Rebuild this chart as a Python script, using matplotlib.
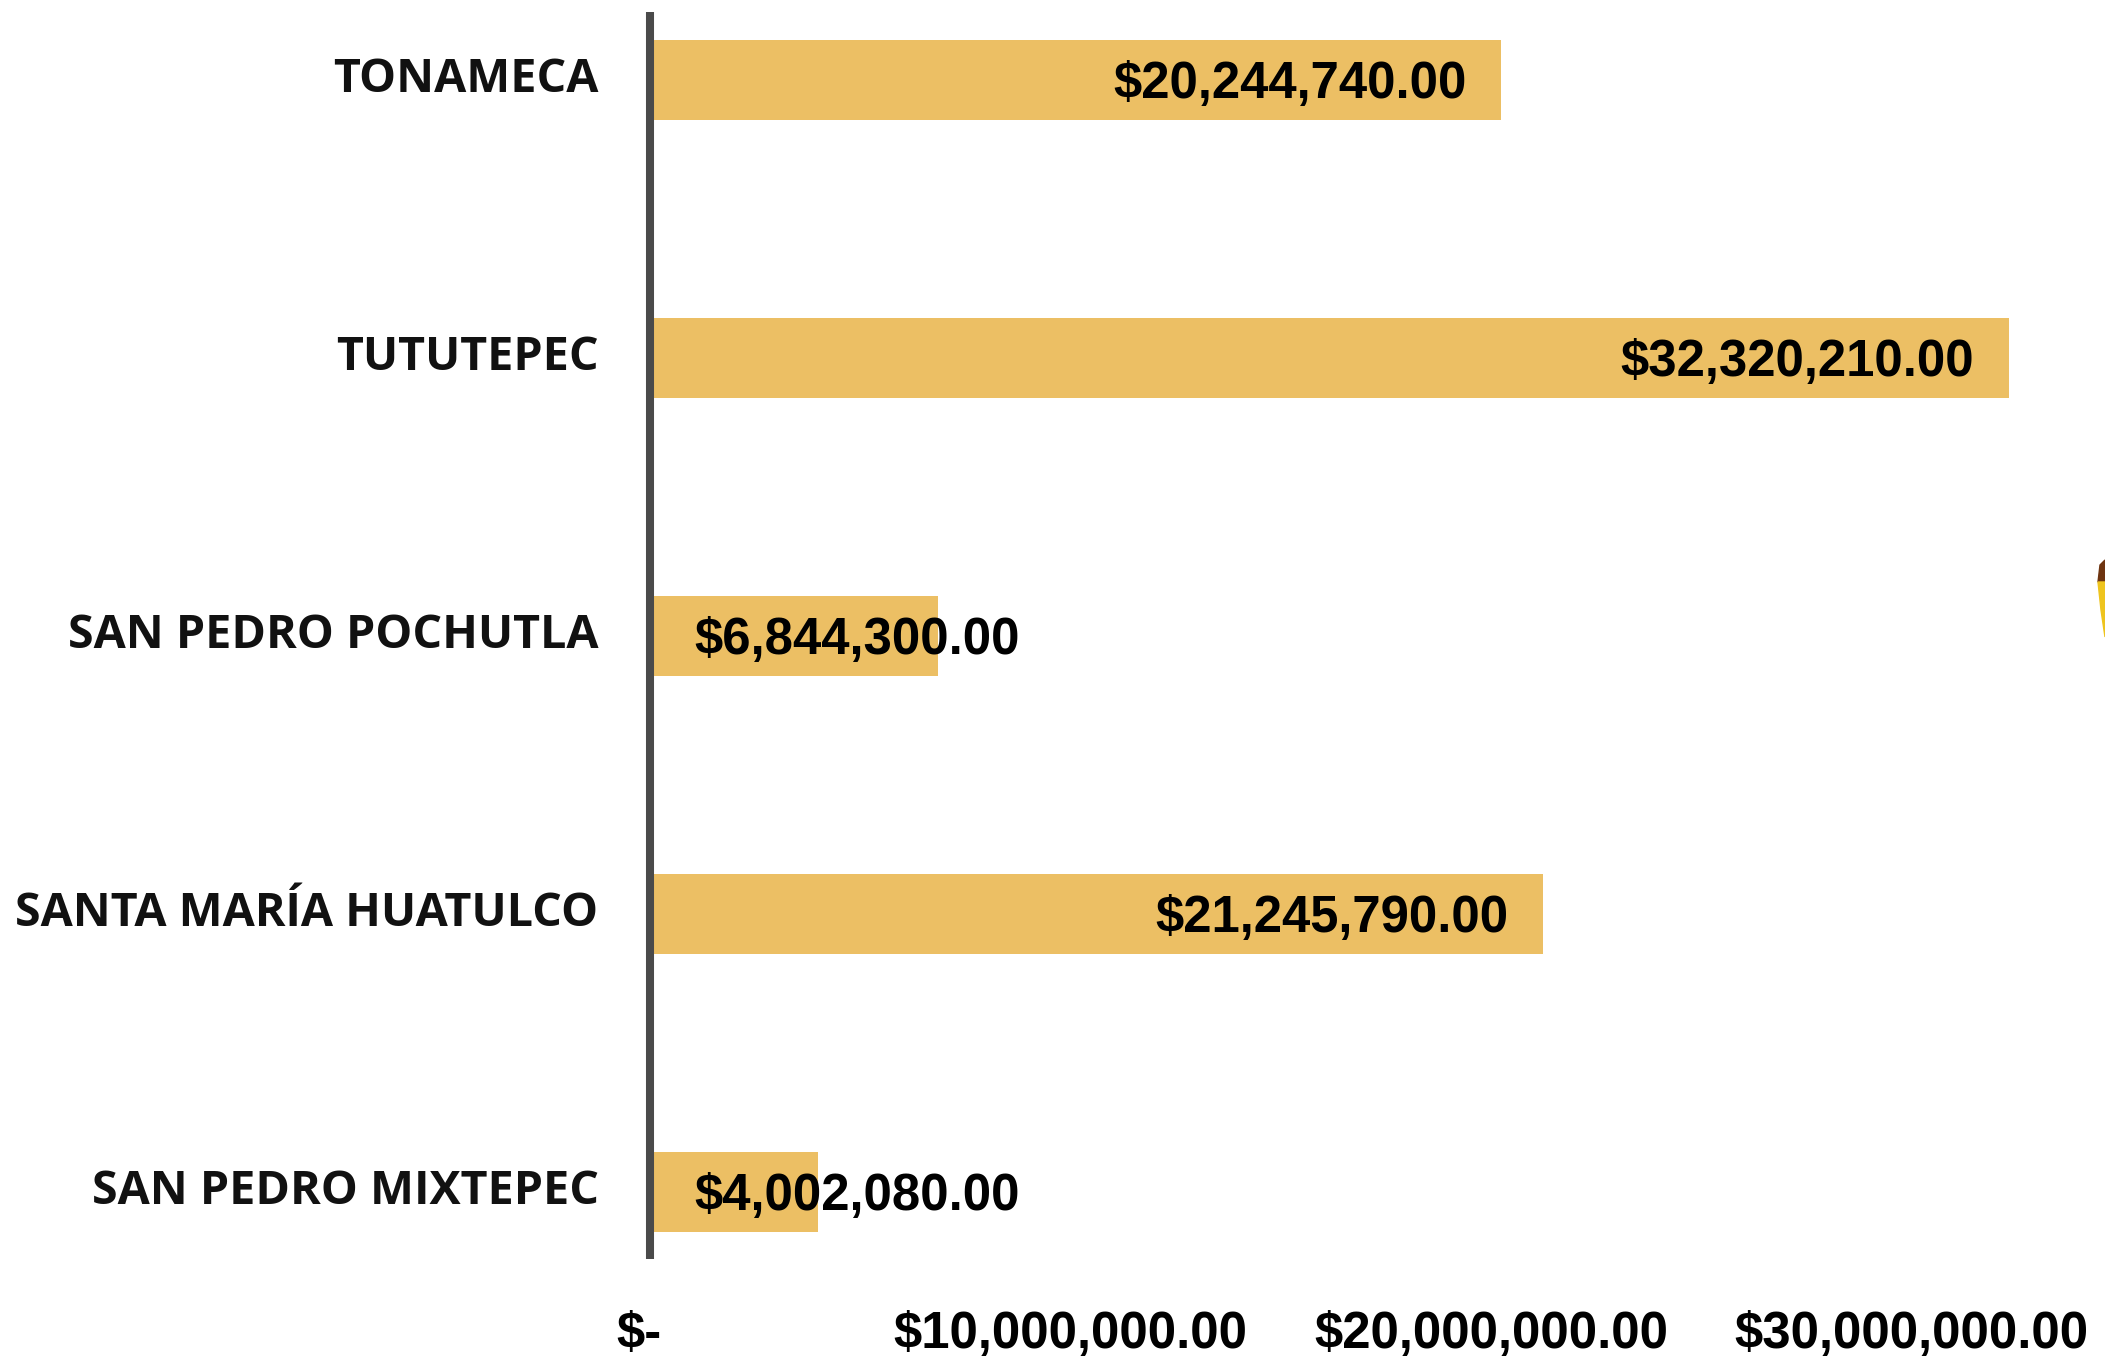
import matplotlib
matplotlib.use('Agg')
import matplotlib.pyplot as plt
from matplotlib.patches import Polygon
from matplotlib.transforms import ScaledTranslation

municipios = ['TONAMECA', 'TUTUTEPEC', 'SAN PEDRO POCHUTLA', 'SANTA MARÍA HUATULCO', 'SAN PEDRO MIXTEPEC']
montos = [20244740, 32320210, 6844300, 21245790, 4002080]
ticks = [0, 10000000, 20000000, 30000000]
tick_labels = ['$-', '$10,000,000.00', '$20,000,000.00', '$30,000,000.00']

W, H = 2105, 1357
DPI = 100
fig = plt.figure(figsize=(W / DPI, H / DPI), dpi=DPI, facecolor='white')
ax = fig.add_axes([650 / W, (H - 1259) / H, (W - 650) / W, (1259 - 12) / H])

pos = range(len(municipios))
ax.barh(pos, montos, height=0.288, color='#ECBF64', left=0, zorder=1)

ax.set_xlim(0, (W - 650) / 420.5 * 10000000)
ax.set_ylim(4.24, -0.246)

for s in ['top', 'right', 'bottom']:
    ax.spines[s].set_visible(False)
ax.spines['left'].set_linewidth(5.8)
ax.spines['left'].set_color('#4a4a4a')
ax.spines['left'].set_zorder(3)
ax.spines['left'].set_capstyle('butt')

ax.set_yticks(list(pos))
ax.set_yticklabels(municipios, fontsize=33.6, fontname='Open Sans', fontweight='bold', color='#111111')
ax.tick_params(axis='y', length=0, pad=37)
for t in ax.get_yticklabels():
    t.set_transform(t.get_transform() + ScaledTranslation(0, 6 / DPI, fig.dpi_scale_trans))

ax.set_xticks(ticks)
ax.set_xticklabels(tick_labels, fontsize=36.6, fontname='Liberation Sans', fontweight='bold')
ax.tick_params(axis='x', length=0, pad=37)
ax.get_xticklabels()[0].set_transform(
    ax.get_xticklabels()[0].get_transform() + ScaledTranslation(-11 / DPI, 0, fig.dpi_scale_trans))

# etiquetas: dentro al final si cabe, si no desde el inicio de la barra
for i, m in enumerate(montos):
    txt = '${:,.2f}'.format(m)
    if m > 10000000:
        ax.annotate(txt, (m, i), xytext=(-25, -3), textcoords='offset points', ha='right', va='center',
                    fontsize=36.6, fontname='Liberation Sans', fontweight='bold', zorder=4)
    else:
        ax.annotate(txt, (0, i), xytext=(32, -3), textcoords='offset points', ha='left', va='center',
                    fontsize=36.6, fontname='Liberation Sans', fontweight='bold', zorder=4)

# resto de un dibujo cortado en el borde derecho
fig.add_artist(Polygon([(2098 / W, 1 - 582 / H), (2100 / W, 1 - 565 / H), (2105 / W, 1 - 560 / H),
                        (2105 / W, 1 - 582 / H)], closed=True, color='#6E3410'))
fig.add_artist(Polygon([(2098 / W, 1 - 582 / H), (2105 / W, 1 - 582 / H), (2105 / W, 1 - 637 / H),
                        (2101 / W, 1 - 610 / H)], closed=True, color='#EEC41E'))

fig.savefig('out.png', dpi=DPI)
